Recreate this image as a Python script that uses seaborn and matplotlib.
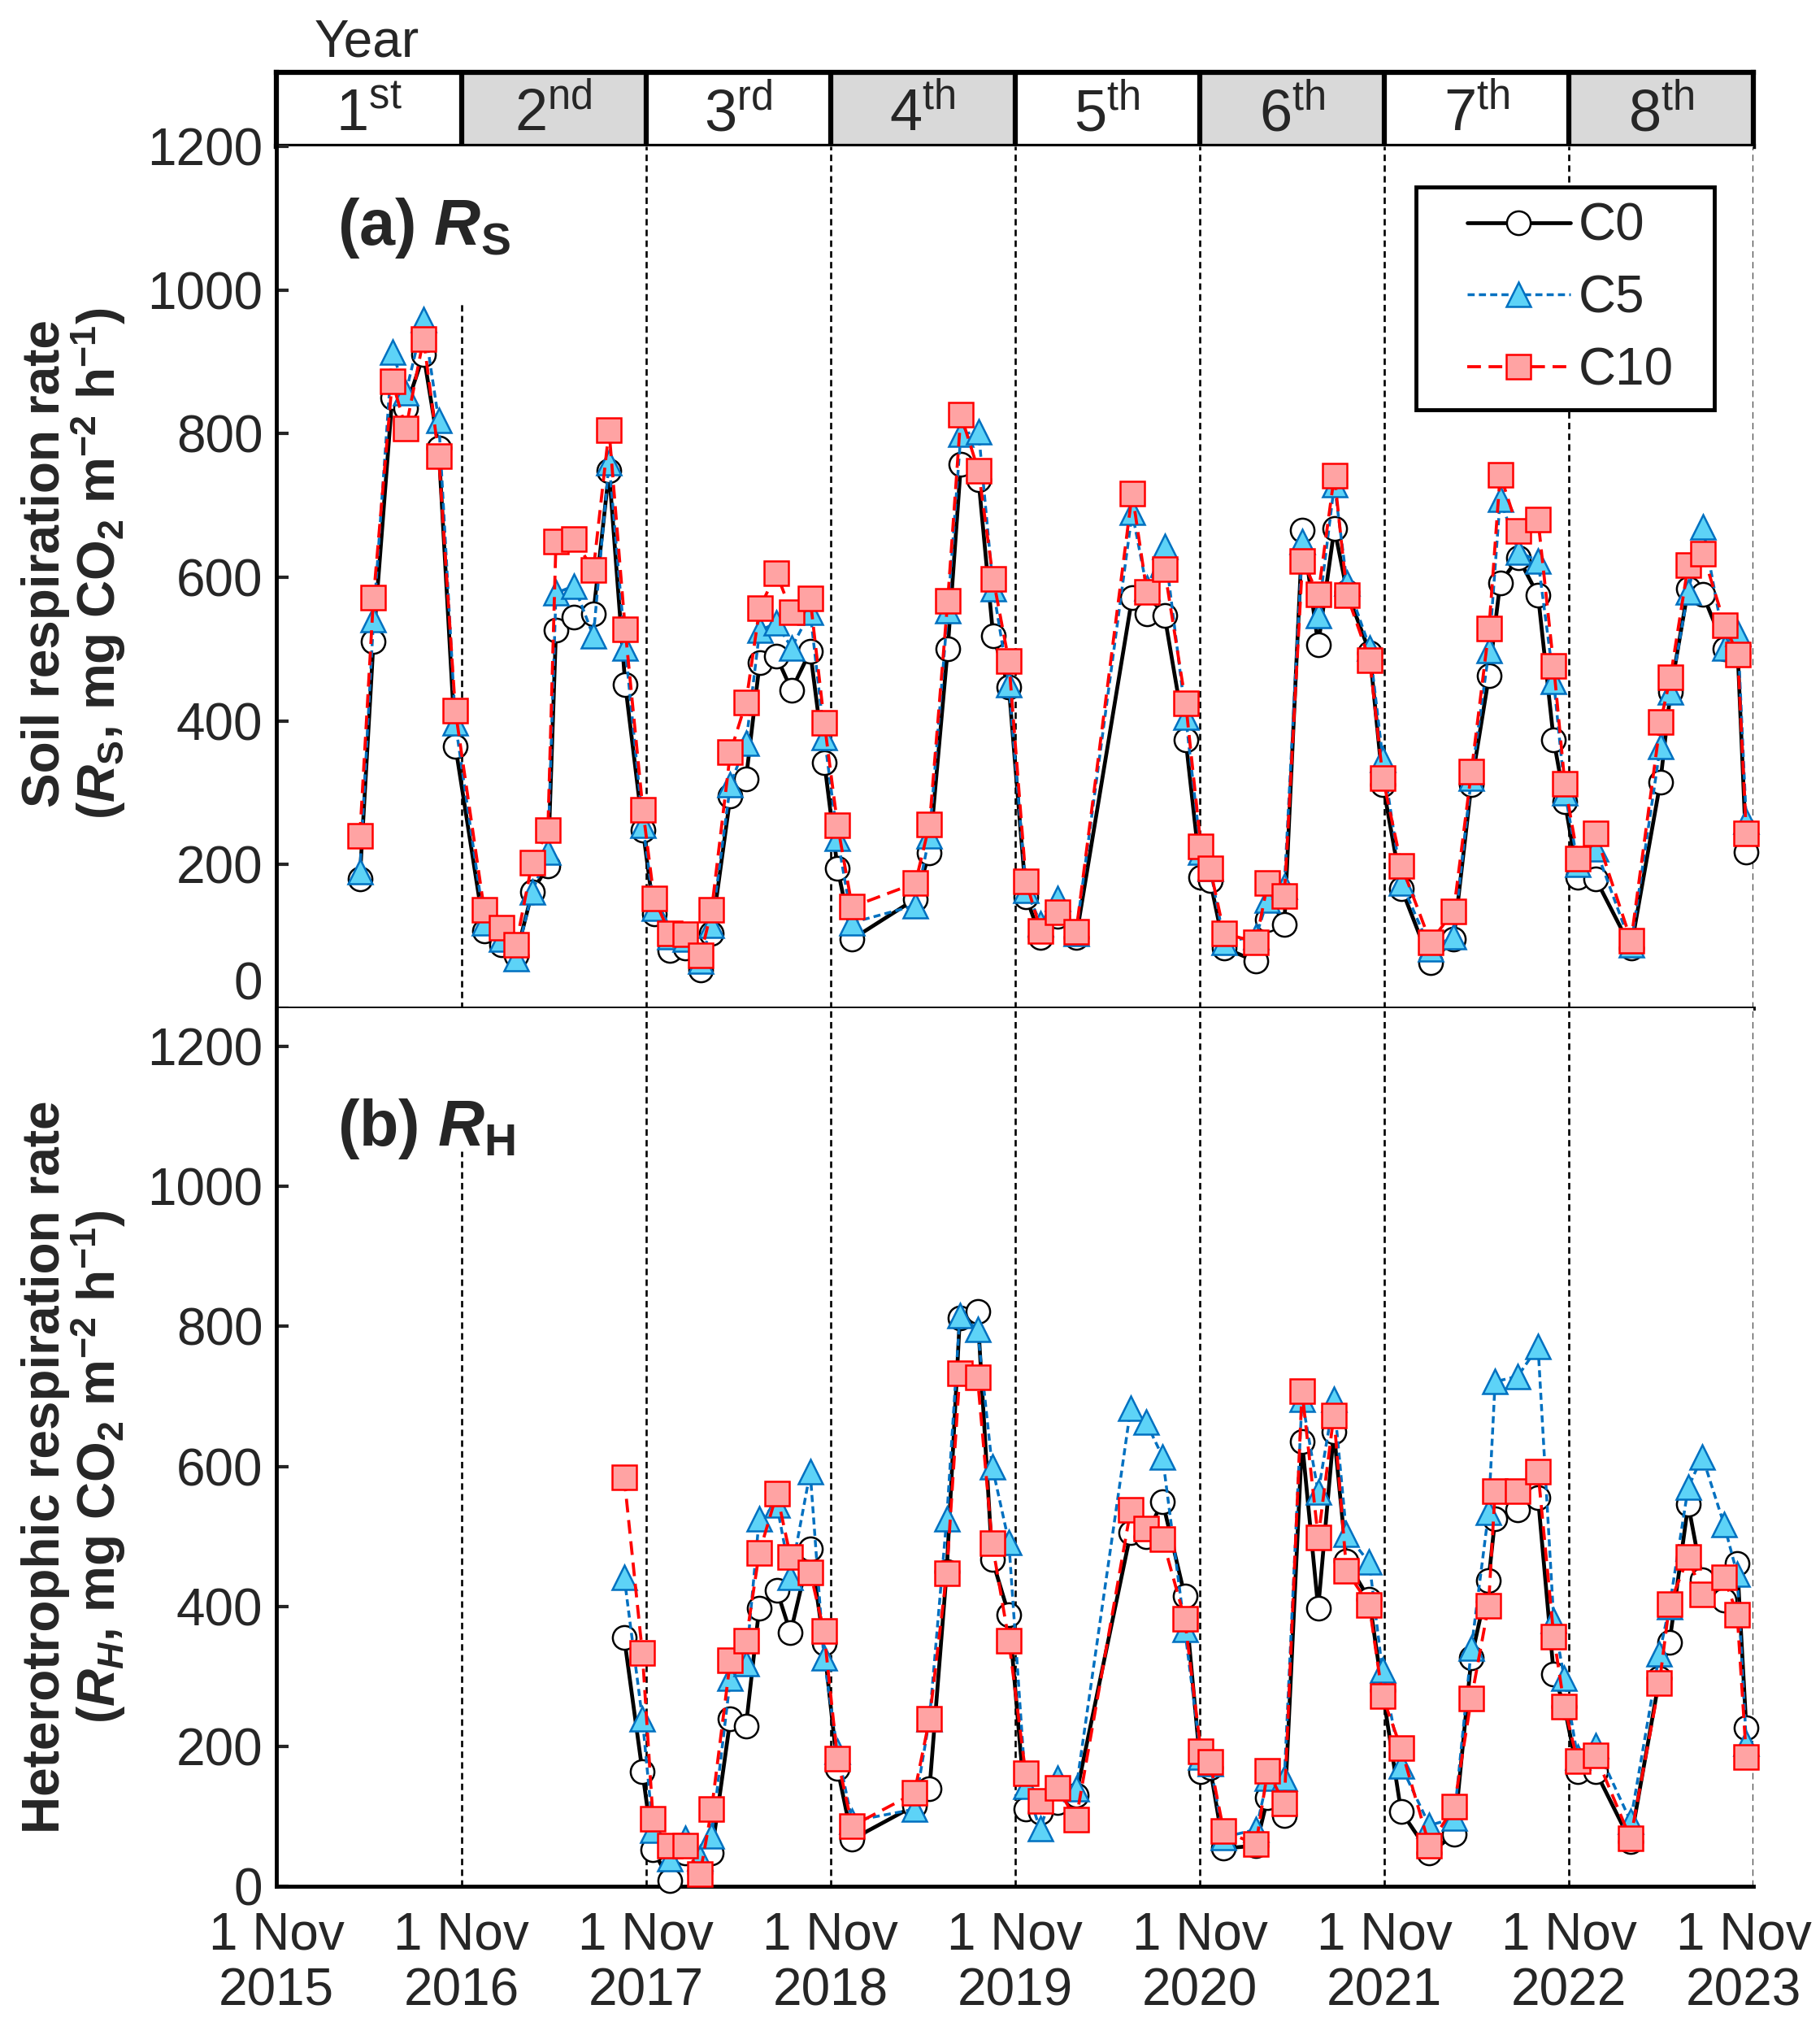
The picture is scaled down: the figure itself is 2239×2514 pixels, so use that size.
import pandas as pd
import matplotlib
matplotlib.use("Agg")
import matplotlib.pyplot as plt
import matplotlib.transforms as mtrans
from matplotlib.patches import Rectangle
import seaborn as sns

# ---------------- data ----------------
dates_rs = [
    "2016-04-14", "2016-05-11", "2016-06-17", "2016-07-14", "2016-08-18", "2016-09-17", "2016-10-20",
    "2016-12-16", "2017-01-19", "2017-02-17", "2017-03-21", "2017-04-21", "2017-05-07", "2017-06-12",
    "2017-07-20", "2017-08-20", "2017-09-21", "2017-10-26",
    "2017-11-17", "2017-12-18", "2018-01-17", "2018-02-17", "2018-03-11", "2018-04-17", "2018-05-18",
    "2018-06-14", "2018-07-17", "2018-08-16", "2018-09-22", "2018-10-20",
    "2018-11-15", "2018-12-14", "2019-04-18", "2019-05-16", "2019-06-21", "2019-07-17", "2019-08-21",
    "2019-09-19", "2019-10-20",
    "2019-11-23", "2019-12-22", "2020-01-25", "2020-03-01", "2020-06-20", "2020-07-19", "2020-08-23",
    "2020-10-04",
    "2020-11-03", "2020-11-21", "2020-12-19", "2021-02-20", "2021-03-15", "2021-04-17", "2021-05-23",
    "2021-06-23", "2021-07-25", "2021-08-19", "2021-10-03", "2021-10-29",
    "2021-12-05", "2022-01-31", "2022-03-18", "2022-04-22", "2022-05-27", "2022-06-18", "2022-07-24",
    "2022-09-01", "2022-10-02", "2022-10-24",
    "2022-11-19", "2022-12-24", "2023-03-04", "2023-05-01", "2023-05-21", "2023-06-25", "2023-07-24",
    "2023-09-06", "2023-10-01", "2023-10-18",
]
rs_c0 = [180, 511, 850, 836, 910, 780, 365,
         108, 88, 73, 162, 198, 526, 545, 549, 748, 451, 248,
         131, 80, 84, 53, 104, 295, 319, 481, 490, 443, 497, 342,
         195, 96, 152, 216, 500, 757, 736, 518, 447,
         155, 98, 128, 98, 572, 549, 547, 373,
         182, 178, 84, 65, 123, 116, 666, 506, 668, 580, 495, 311,
         166, 63, 96, 311, 463, 592, 627, 575, 373, 287,
         182, 180, 84, 315, 440, 584, 576, 500, 495, 217]
rs_c5 = [190, 541, 914, 857, 959, 818, 397,
         119, 96, 69, 162, 217, 578, 588, 518, 760, 502, 255,
         139, 100, 96, 65, 115, 311, 369, 526, 536, 502, 551, 377,
         237, 119, 143, 240, 553, 799, 803, 584, 451,
         164, 118, 153, 104, 690, 585, 643, 405,
         217, 195, 92, 100, 151, 170, 650, 547, 729, 592, 502, 346,
         174, 82, 100, 320, 498, 709, 635, 623, 455, 300,
         200, 222, 88, 365, 440, 580, 670, 502, 522, 260]
rs_c10 = [240, 572, 873, 807, 932, 769, 414,
          137, 112, 88, 203, 248, 650, 653, 610, 805, 527, 276,
          153, 104, 103, 73, 137, 356, 426, 557, 606, 551, 570, 397,
          255, 141, 174, 256, 567, 826, 748, 598, 483,
          176, 108, 133, 106, 717, 580, 611, 424,
          225, 195, 104, 92, 174, 156, 623, 576, 742, 575, 484, 320,
          198, 92, 135, 329, 529, 743, 665, 680, 476, 312,
          208, 243, 94, 398, 461, 617, 633, 533, 492, 243]

dates_rh = [
    "2017-09-19", "2017-10-25", "2017-11-15", "2017-12-18", "2018-01-18", "2018-02-16", "2018-03-11",
    "2018-04-17", "2018-05-18", "2018-06-13", "2018-07-18", "2018-08-14", "2018-09-22", "2018-10-19",
    "2018-11-15", "2018-12-14", "2019-04-16", "2019-05-16", "2019-06-19", "2019-07-15", "2019-08-19",
    "2019-09-17", "2019-10-20",
    "2019-11-22", "2019-12-21", "2020-01-24", "2020-03-01", "2020-06-17", "2020-07-17", "2020-08-19",
    "2020-10-02",
    "2020-11-03", "2020-11-21", "2020-12-18", "2021-02-20", "2021-03-15", "2021-04-17", "2021-05-22",
    "2021-06-23", "2021-07-24", "2021-08-18", "2021-10-02", "2021-10-28",
    "2021-12-04", "2022-01-29", "2022-03-19", "2022-04-22", "2022-05-26", "2022-06-08", "2022-07-23",
    "2022-09-01", "2022-10-02", "2022-10-23",
    "2022-11-18", "2022-12-24", "2023-03-03", "2023-04-29", "2023-05-19", "2023-06-25", "2023-07-23",
    "2023-09-04", "2023-09-30", "2023-10-18",
]
rh_c0 = [355, 164, 52, 8, 47, 20, 47, 239, 229, 397, 423, 362, 482, 347,
         168, 67, 115, 139, 450, 812, 821, 467, 388,
         110, 106, 120, 130, 505, 500, 550, 415,
         164, 170, 54, 58, 126, 101, 636, 397, 650, 465, 410, 280,
         107, 47, 74, 326, 437, 525, 538, 555, 303, 257,
         164, 164, 64, 297, 348, 546, 438, 409, 461, 226]
rh_c5 = [442, 239, 80, 39, 68, 40, 72, 297, 318, 525, 545, 442, 592, 326,
         193, 93, 110, 239, 525, 816, 796, 600, 492,
         143, 82, 155, 139, 683, 664, 614, 367,
         185, 175, 70, 81, 155, 155, 696, 563, 696, 503, 463, 309,
         172, 87, 97, 340, 534, 721, 729, 771, 380, 297,
         185, 201, 93, 332, 400, 570, 614, 517, 446, 205]
rh_c10 = [584, 333, 96, 58, 58, 17, 110, 323, 351, 476, 561, 471, 449, 365,
          182, 86, 133, 239, 447, 733, 727, 490, 351,
          162, 122, 141, 95, 538, 511, 496, 382,
          193, 178, 79, 60, 165, 118, 708, 498, 673, 451, 402, 272,
          197, 58, 114, 268, 401, 565, 565, 592, 357, 257,
          179, 187, 68, 290, 403, 470, 417, 442, 388, 185]

treatments = ["C0", "C5", "C10"]
year_numbers = ["1", "2", "3", "4", "5", "6", "7", "8"]
year_suffixes = ["st", "nd", "rd", "th", "th", "th", "th", "th"]
tick_years = ["2015", "2016", "2017", "2018", "2019", "2020", "2021", "2022", "2023"]

# ---------------- style ----------------
sns.set_theme(style="white")
plt.rcParams["font.family"] = ["Liberation Sans", "DejaVu Sans"]
plt.rcParams["mathtext.fontset"] = "custom"
plt.rcParams["mathtext.rm"] = "Liberation Sans"
plt.rcParams["mathtext.it"] = "Liberation Sans:italic"
plt.rcParams["mathtext.bf"] = "Liberation Sans:bold"
plt.rcParams["mathtext.bfit"] = "Liberation Sans:italic:bold"

FS = 46
styles = {
    "C0": dict(color="black", lw=3.4, linestyle="-", marker="o", mfc="white", mec="black", mew=1.8),
    "C5": dict(color="#0070C0", lw=2.5, linestyle=(0, (2.5, 1.5)), marker="^", mfc="#5DD3F7",
               mec="#0070C0", mew=1.8),
    "C10": dict(color="#FF0000", lw=2.7, linestyle=(0, (4.5, 2.5)), marker="s", mfc="#FFA3A3",
                mec="#FF0000", mew=1.8),
}

df_rs = pd.DataFrame({"date": pd.to_datetime(dates_rs), "C0": rs_c0, "C5": rs_c5, "C10": rs_c10})
df_rh = pd.DataFrame({"date": pd.to_datetime(dates_rh), "C0": rh_c0, "C5": rh_c5, "C10": rh_c10})

bounds = pd.to_datetime([y + "-11-01" for y in tick_years])

fig = plt.figure(figsize=(22.39, 25.14), dpi=100)
L, W = 0.1519, 0.8115
ax_h = fig.add_axes([L, 0.9284, W, 0.0362])
ax_a = fig.add_axes([L, 0.5068, W, 0.4216])
ax_b = fig.add_axes([L, 0.0772, W, 0.4296])

# ---------------- year header ----------------
for i in range(8):
    ax_h.axvspan(bounds[i], bounds[i + 1], color="white" if i % 2 == 0 else "#D9D9D9", lw=0)
    mid = bounds[i] + (bounds[i + 1] - bounds[i]) / 2
    ax_h.text(mid, 0.42, year_numbers[i] + r"$^{\mathrm{" + year_suffixes[i] + "}}$",
              ha="center", va="center", fontsize=52)
ax_h.vlines(bounds[1:-1], 0, 1, color="black", lw=4.5)
ax_h.set_xlim(bounds[0], bounds[-1])
ax_h.set_ylim(0, 1)
ax_h.set_xticks([])
ax_h.set_yticks([])
for s in ax_h.spines.values():
    s.set_linewidth(4.5)
    s.set_color("black")
fig.text(0.2014, 0.979, "Year", ha="center", va="center", fontsize=FS)


def draw_panel(ax, df, ymax):
    for t in treatments:
        st = styles[t]
        sns.lineplot(data=df, x="date", y=t, ax=ax, errorbar=None, sort=False,
                     color=st["color"], lw=st["lw"], linestyle=st["linestyle"],
                     marker=st["marker"], markersize=21, markerfacecolor=st["mfc"],
                     markeredgecolor=st["mec"], markeredgewidth=st["mew"], zorder=3,
                     clip_on=False)
    ax.set_xlim(bounds[0], bounds[-1])
    ax.set_ylim(0, ymax)
    ax.set_yticks(range(0, 1201, 200))
    ax.set_xlabel("")
    ax.set_ylabel("")
    ax.tick_params(axis="y", direction="in", left=True, length=11, width=3,
                   labelsize=FS, pad=12)
    for side in ["top", "right"]:
        ax.spines[side].set_visible(False)
    for side in ["left", "bottom"]:
        ax.spines[side].set_linewidth(3.5)
        ax.spines[side].set_color("black")


draw_panel(ax_a, df_rs, 1200)
draw_panel(ax_b, df_rh, 1255)

# year boundary guides
dash = (0, (3, 2))
ax_a.vlines(bounds[1], -45, 980, color="black", lw=1.9, linestyle=dash, zorder=1, clip_on=False)
ax_a.vlines(bounds[2:], 0, 1200, color="black", lw=1.9, linestyle=dash, zorder=1)
ax_b.vlines(bounds[1], 0, 1050, color="black", lw=1.9, linestyle=dash, zorder=1)
ax_b.vlines(bounds[2:], 0, 1255, color="black", lw=1.9, linestyle=dash, zorder=1)

ax_a.tick_params(axis="x", length=0, labelbottom=False)
ax_b.set_xticks(bounds)
ax_b.set_xticklabels(["1 Nov\n" + y for y in tick_years])
ax_b.tick_params(axis="x", length=0, labelsize=FS, pad=22)

# panel titles
ax_a.text(0.041, 0.905, "(a) " + r"$\mathbfit{R}_{\mathbf{S}}$", transform=ax_a.transAxes,
          fontsize=57, fontweight="bold", ha="left", va="center")
ax_b.text(0.041, 0.862, "(b) " + r"$\mathbfit{R}_{\mathbf{H}}$", transform=ax_b.transAxes,
          fontsize=57, fontweight="bold", ha="left", va="center")

# y labels
fig.text(0.025, 0.7243, "Soil respiration rate", rotation=90, ha="center", va="center",
         fontsize=FS, fontweight="bold")
fig.text(0.054, 0.7243,
         "(" + r"$\mathbfit{R}_{\mathbf{S}}$" + ", mg CO" + r"$_{\mathbf{2}}$" + " m"
         + r"$^{\mathbf{-2}}$" + " h" + r"$^{\mathbf{-1}}$" + ")",
         rotation=90, ha="center", va="center", fontsize=FS, fontweight="bold")
fig.text(0.025, 0.2824, "Heterotrophic respiration rate", rotation=90, ha="center", va="center",
         fontsize=FS, fontweight="bold")
fig.text(0.054, 0.2824,
         "(" + r"$\mathbfit{R}_{\mathbfit{H}}$" + ", mg CO" + r"$_{\mathbf{2}}$" + " m"
         + r"$^{\mathbf{-2}}$" + " h" + r"$^{\mathbf{-1}}$" + ")",
         rotation=90, ha="center", va="center", fontsize=FS, fontweight="bold")

# legend with a drawn box
box = Rectangle((0.7717, 0.694), 0.2019, 0.2588, transform=ax_a.transAxes,
                facecolor="white", edgecolor="black", lw=3.5, zorder=5)
ax_a.add_patch(box)
handles = ax_a.lines[:3]
leg = ax_a.legend(handles, treatments, loc="upper left", bbox_to_anchor=(0.806, 0.935),
                  frameon=False, fontsize=FS, handlelength=2.0, handletextpad=0.15,
                  labelspacing=0.45, borderpad=0, borderaxespad=0)
leg.set_zorder(6)
if ax_b.get_legend() is not None:
    ax_b.get_legend().remove()

# small label offsets seen in the original
fig.canvas.draw()
for lab in ax_a.get_yticklabels():
    if lab.get_text() == "0":
        lab.set_transform(lab.get_transform()
                          + mtrans.ScaledTranslation(0, 0.34, fig.dpi_scale_trans))
last = ax_b.get_xticklabels()[-1]
last.set_transform(last.get_transform() + mtrans.ScaledTranslation(-0.12, 0, fig.dpi_scale_trans))

fig.savefig("out.png", dpi=100)
